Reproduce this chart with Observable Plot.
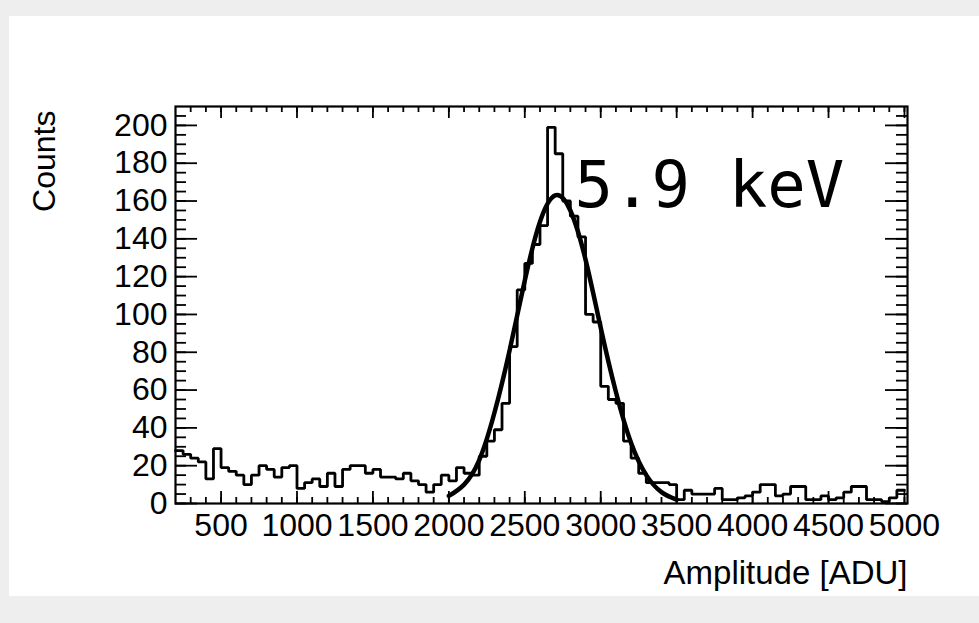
<!DOCTYPE html>
<html><head><meta charset="utf-8">
<script src="https://cdn.jsdelivr.net/npm/d3@7"></script>
<script src="https://cdn.jsdelivr.net/npm/@observablehq/plot@0.6"></script>
<style>
html,body{margin:0;padding:0;background:#eeeeee;width:979px;height:623px;overflow:hidden;}
#panel{position:absolute;left:9px;top:16px;width:970px;height:580px;background:#ffffff;}
#chart{position:absolute;left:0;top:0;}
</style></head><body>
<div id="panel"></div>
<div id="chart"></div>
<script>
// Histogram: 50 ADU bins starting at 200 ADU
const binLow = 200;
const binWidth = 50;
const counts = [
  28, 26, 24, 22, 13, 29, 19, 17, 15, 10,
  15, 20, 18, 14, 19, 20, 8, 11, 13, 9,
  16, 9, 18, 20, 20, 16, 18, 14, 14, 13,
  16, 12, 10, 6, 10, 15, 12, 19, 16, 15,
  25, 33, 39, 53, 83, 113, 127, 137, 147, 199,
  185, 160, 152, 141, 100, 96, 62, 55, 53, 33,
  24, 16, 11, 11, 11, 10, 2, 7, 5, 5,
  5, 8, 2, 2, 3, 4, 6, 10, 10, 4,
  5, 9, 9, 2, 2, 4, 2, 3, 6, 9,
  9, 2, 2, 1, 3, 7
];
// Gaussian fit curve
const fitX = [2000, 2100, 2200, 2300, 2400, 2500, 2600, 2700, 2800, 2900, 3000, 3100, 3200, 3300, 3400, 3500];
const fitY = [4, 10, 23, 48, 81, 118, 149, 163, 155, 129, 93, 59, 32, 15, 6, 2];

const xLabels = [500, 1000, 1500, 2000, 2500, 3000, 3500, 4000, 4500, 5000];
const yLabels = [0, 20, 40, 60, 80, 100, 120, 140, 160, 180, 200];
const xDomain = [200, 5020];
const yDomain = [0, 210];
const xTitle = "Amplitude [ADU]";
const yTitle = "Counts";
const annotation = "5.9 keV";

const W = 979, H = 623;
const mL = 175, mR = 72, mT = 106, mB = 120;
const frameW = W - mL - mR;
const frameH = H - mT - mB;

const stepPts = [];
counts.forEach((c, i) => {
  const x0 = binLow + i * binWidth;
  stepPts.push({x: x0, y: c});
  stepPts.push({x: x0 + binWidth, y: c});
});
const fit = fitX.map((x, i) => ({x, y: fitY[i]}));

const xMinor = d3.range(300, 5001, 100);
const xMajor = xLabels;
const yMinor = d3.range(0, 210, 5);
const yMajor = yLabels;

const plot = Plot.plot({
  width: W, height: H,
  marginLeft: mL, marginRight: mR, marginTop: mT, marginBottom: mB,
  x: {domain: xDomain},
  y: {domain: yDomain},
  style: {background: "transparent", fontFamily: "'Liberation Sans', Arial, sans-serif", color: "#000", overflow: "visible"},
  marks: [
    Plot.line(stepPts, {x: "x", y: "y", stroke: "#000", strokeWidth: 2.8, curve: "linear", strokeLinejoin: "miter"}),
    Plot.line(fit, {x: "x", y: "y", stroke: "#000", strokeWidth: 4.5, curve: "natural"}),
    // bottom ticks
    Plot.tickX(xMinor, {x: d => d, insetTop: frameH - 6, stroke: "#000", strokeWidth: 1.8}),
    Plot.tickX(xMajor, {x: d => d, insetTop: frameH - 12, stroke: "#000", strokeWidth: 1.8}),
    // top ticks
    Plot.tickX(xMinor, {x: d => d, insetBottom: frameH - 6, stroke: "#000", strokeWidth: 1.8}),
    Plot.tickX(xMajor, {x: d => d, insetBottom: frameH - 12, stroke: "#000", strokeWidth: 1.8}),
    // left ticks
    Plot.tickY(yMinor, {y: d => d, insetRight: frameW - 11, stroke: "#000", strokeWidth: 1.8}),
    Plot.tickY(yMajor, {y: d => d, insetRight: frameW - 22, stroke: "#000", strokeWidth: 1.8}),
    // right ticks
    Plot.tickY(yMinor, {y: d => d, insetLeft: frameW - 11, stroke: "#000", strokeWidth: 1.8}),
    Plot.tickY(yMajor, {y: d => d, insetLeft: frameW - 22, stroke: "#000", strokeWidth: 1.8}),
    Plot.frame({stroke: "#000", strokeWidth: 2.2}),
    Plot.axisX({ticks: xLabels, tickSize: 0, tickPadding: 10, fontSize: 32, label: null, tickFormat: d => String(d)}),
    Plot.axisY({ticks: yLabels, tickSize: 0, tickPadding: 8, fontSize: 32, label: null, tickFormat: d => String(d)}),
    Plot.text([xTitle], {frameAnchor: "bottom-right", dy: 70, textAnchor: "end", lineAnchor: "middle", fontSize: 33, fill: "#000"}),
    Plot.text([yTitle], {frameAnchor: "top-left", dx: -131, dy: 4, rotate: -90, textAnchor: "end", lineAnchor: "middle", fontSize: 32, fill: "#000"}),
    Plot.text([annotation], {frameAnchor: "top-left", dx: 399, dy: 80, textAnchor: "start", lineAnchor: "middle", fontSize: 64, fontFamily: "'DejaVu Sans Mono', monospace", fill: "#000"})
  ]
});
document.getElementById("chart").appendChild(plot);
</script></body></html>
